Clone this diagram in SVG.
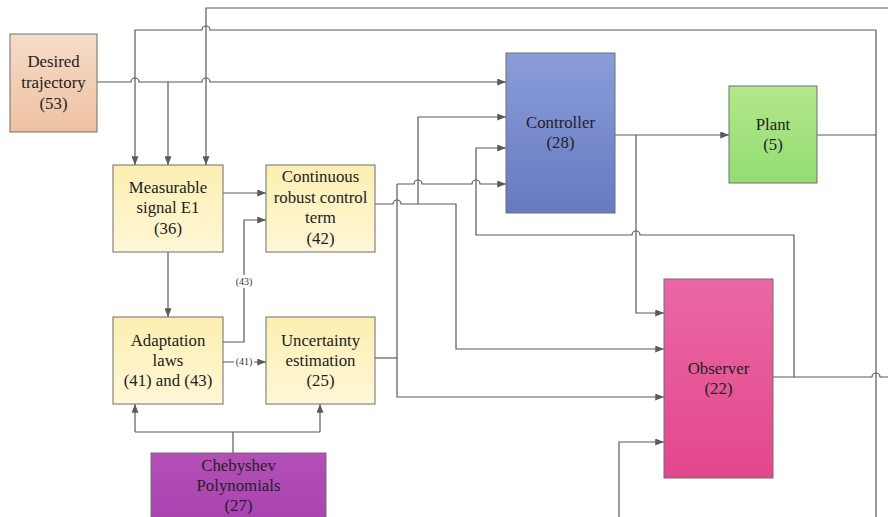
<svg xmlns="http://www.w3.org/2000/svg" width="888" height="517" viewBox="0 0 888 517">
<style>
.box{stroke:#6e6e6e;stroke-width:1}
.t{font-family:"Liberation Serif","Times New Roman",serif;font-size:16.8px;fill:#222;text-anchor:middle}
.lbl{font-family:"Liberation Serif","Times New Roman",serif;font-size:10px;fill:#333;text-anchor:middle}
.c{fill:none;stroke:#5a5a5a;stroke-width:1.2}
.a{marker-end:url(#arr)}
</style>
<defs>
<marker id="arr" viewBox="0 0 10 8" markerWidth="9" markerHeight="7" refX="10" refY="4" orient="auto" markerUnits="userSpaceOnUse">
<path d="M0,0 L10,4 L0,8 z" fill="#5a5a5a"/>
</marker>
<linearGradient id="gDes" x1="0" y1="0" x2="0" y2="1"><stop offset="0" stop-color="#f6dcc8"/><stop offset="1" stop-color="#eec1a2"/></linearGradient>
<linearGradient id="gY" x1="0" y1="0" x2="0" y2="1"><stop offset="0" stop-color="#fcefb2"/><stop offset="1" stop-color="#fff7d6"/></linearGradient>
<linearGradient id="gCtl" x1="0" y1="0" x2="0" y2="1"><stop offset="0" stop-color="#8a9dd8"/><stop offset="1" stop-color="#6779c2"/></linearGradient>
<linearGradient id="gPl" x1="0" y1="0" x2="0" y2="1"><stop offset="0" stop-color="#b4e88c"/><stop offset="1" stop-color="#92dc72"/></linearGradient>
<linearGradient id="gObs" x1="0" y1="0" x2="0" y2="1"><stop offset="0" stop-color="#ea68a3"/><stop offset="1" stop-color="#e3478e"/></linearGradient>
<linearGradient id="gCh" x1="0" y1="0" x2="0" y2="1"><stop offset="0" stop-color="#b44fb8"/><stop offset="1" stop-color="#a843b0"/></linearGradient>
</defs>
<rect width="888" height="517" fill="#fff"/>

<g id="connectors">
<path class="c a" d="M97 82 H131 a4 4 0 0 1 8 0 H202 a4 4 0 0 1 8 0 H506"/>
<path class="c a" d="M168 82 V165"/>
<path class="c a" d="M876 30 H210 a4 4 0 0 0 -8 0 H135 V165"/>
<path class="c a" d="M888 8 H206 V165"/>
<path class="c a" d="M223 193 H266"/>
<path class="c a" d="M168 252 V317"/>
<path class="c a" d="M223 342 H244 V220 H266"/>
<path class="c a" d="M223 362 H266"/>
<path class="c" d="M233 453 V432 M135 432 H320"/>
<path class="c a" d="M135 432 V404"/>
<path class="c a" d="M320 432 V404"/>
<path class="c a" d="M375 204 H393 a4 4 0 0 1 8 0 H456 V349 H664"/>
<path class="c a" d="M418 204 V117 H506"/>
<path class="c" d="M375 358 H397"/>
<path class="c a" d="M397 184 V397 H664"/>
<path class="c a" d="M397 184 H414 a4 4 0 0 1 8 0 H472 a4 4 0 0 1 8 0 H506"/>
<path class="c a" d="M615 135 H729"/>
<path class="c a" d="M636 135 V313 H664"/>
<path class="c a" d="M773 377 H794 V235 H640 a4 4 0 0 0 -8 0 H476 V148 H506"/>
<path class="c" d="M794 377 H872 a4 4 0 0 1 8 0 H888"/>
<path class="c" d="M817 135 H876 M876 30 V517"/>
<path class="c a" d="M619 517 V442 H664"/>
<rect x="234" y="275" width="20" height="13" fill="#fff"/>
<text class="lbl" x="244" y="285">(43)</text>
<rect x="234" y="355" width="20" height="13" fill="#fff"/>
<text class="lbl" x="244" y="365">(41)</text>
</g>

<g id="desired">
<rect class="box" x="10" y="34" width="87" height="98" fill="url(#gDes)"/>
<text class="t" x="53.5" y="67">Desired</text>
<text class="t" x="53.5" y="88">trajectory</text>
<text class="t" x="53.5" y="109">(53)</text>
</g>
<g id="measurable">
<rect class="box" x="113" y="165" width="110" height="87" fill="url(#gY)"/>
<text class="t" x="168" y="193">Measurable</text>
<text class="t" x="168" y="213">signal E1</text>
<text class="t" x="168" y="234">(36)</text>
</g>
<g id="continuous">
<rect class="box" x="266" y="165" width="109" height="87" fill="url(#gY)"/>
<text class="t" x="320.5" y="182">Continuous</text>
<text class="t" x="320.5" y="203">robust control</text>
<text class="t" x="320.5" y="223">term</text>
<text class="t" x="320.5" y="244">(42)</text>
</g>
<g id="adaptation">
<rect class="box" x="113" y="317" width="110" height="87" fill="url(#gY)"/>
<text class="t" x="168" y="346">Adaptation</text>
<text class="t" x="168" y="366">laws</text>
<text class="t" x="168" y="386">(41) and (43)</text>
</g>
<g id="uncertainty">
<rect class="box" x="266" y="317" width="109" height="87" fill="url(#gY)"/>
<text class="t" x="320.5" y="346">Uncertainty</text>
<text class="t" x="320.5" y="366">estimation</text>
<text class="t" x="320.5" y="386">(25)</text>
</g>
<g id="chebyshev">
<rect class="box" x="151" y="453" width="175" height="70" fill="url(#gCh)"/>
<text class="t" x="238.5" y="471">Chebyshev</text>
<text class="t" x="238.5" y="491">Polynomials</text>
<text class="t" x="238.5" y="511">(27)</text>
</g>
<g id="controller">
<rect class="box" x="506" y="53" width="109" height="160" fill="url(#gCtl)"/>
<text class="t" x="560.5" y="128">Controller</text>
<text class="t" x="560.5" y="148">(28)</text>
</g>
<g id="plant">
<rect class="box" x="729" y="86" width="88" height="97" fill="url(#gPl)"/>
<text class="t" x="773" y="130">Plant</text>
<text class="t" x="773" y="150">(5)</text>
</g>
<g id="observer">
<rect class="box" x="664" y="279" width="109" height="199" fill="url(#gObs)"/>
<text class="t" x="718.5" y="374">Observer</text>
<text class="t" x="718.5" y="394">(22)</text>
</g>
</svg>
